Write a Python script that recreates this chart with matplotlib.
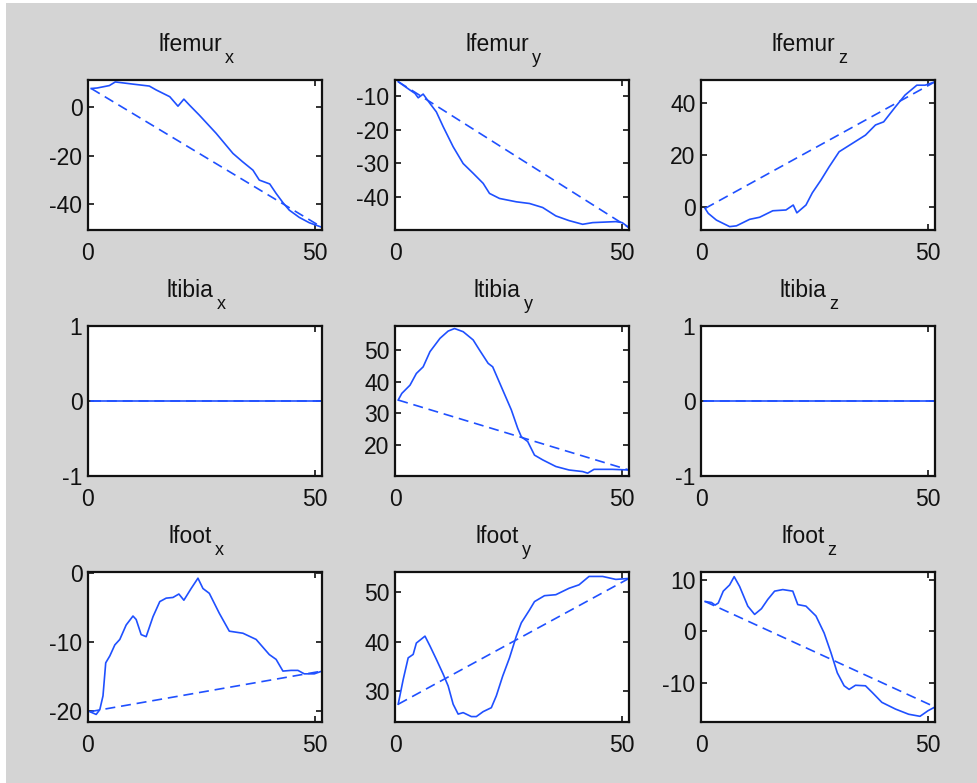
import matplotlib.pyplot as plt
from matplotlib.patches import Rectangle

plt.rcParams['font.family'] = ['Liberation Sans', 'DejaVu Sans']
plt.rcParams['axes.unicode_minus'] = False

# frame numbers and values
lfemur_x_t = [0.7, 2.0, 4.7, 6.0, 9.9, 13.5, 15, 18, 19.8, 21.1, 22.3, 24.5, 28.2, 31.9, 34, 36.3,
              37.7, 40, 41.4, 42.9, 44.3, 46.5, 48.7, 51.5]
lfemur_x = [7.8, 8.0, 9.0, 10.5, 9.6, 8.8, 7.2, 4.4, 0.5, 3.4, 1.0, -3.2, -10.7, -19, -22.4, -25.9,
            -30, -31.6, -35.5, -39.3, -42.4, -45.4, -47.6, -49.5]

lfemur_y_t = [0.7, 3.3, 4.4, 5.1, 6.2, 7.7, 9.1, 10.6, 12.8, 15, 17.2, 19.4, 20.8, 23, 26.7, 29.6,
              32.5, 35.4, 38.3, 41.3, 43.5, 48.6, 50, 51.5]
lfemur_y = [-5.7, -8.2, -9.2, -10.5, -9.4, -12.2, -14.7, -19.1, -25.1, -30.1, -33, -36, -39, -40.5,
            -41.5, -42, -43.2, -45.7, -47.1, -48.2, -47.7, -47.4, -47.7, -49.2]

lfemur_z_t = [0.9, 1.6, 3.4, 6.3, 7.8, 10.7, 12.9, 15.8, 18.7, 20.3, 21.1, 23.1, 24.5, 26.4, 28.2,
              30.4, 33.3, 36.2, 38.4, 40.2, 42.8, 44.9, 47.5, 49.3, 51.5]
lfemur_z = [-0.4, -2.3, -4.9, -7.4, -7.1, -4.6, -3.8, -1.3, -1.0, 0.9, -2.1, 0.9, 5.6, 10.5, 15.6,
            21.4, 24.6, 27.8, 31.7, 32.9, 38.7, 43.2, 47, 47, 48.3]

ltibia_x_t = [0.7, 51.5]
ltibia_x = [0, 0]

ltibia_y_t = [0.7, 1.5, 3.3, 4.7, 6.2, 7.7, 9.9, 11.7, 13.1, 15, 17.2, 18.6, 20.5, 21.5, 23.7, 25.6,
              27, 27.8, 29.2, 30.7, 32.5, 35.4, 38.3, 41.3, 42.4, 43.8, 47.8, 51.5]
ltibia_y = [34.2, 36.3, 38.9, 42.6, 44.7, 49.5, 53.7, 56, 56.8, 55.8, 53.2, 50, 45.8, 44.7, 37.4,
            31.1, 25.3, 22.6, 21.1, 16.8, 15.3, 13.2, 12.1, 11.6, 11.1, 12.3, 12.3, 12.1]

ltibia_z_t = [0.7, 51.5]
ltibia_z = [0, 0]

lfoot_x_t = [0.4, 1.8, 2.6, 3.3, 3.9, 4.8, 5.9, 7, 8.4, 9.9, 10.6, 11.7, 12.8, 14.3, 15.8, 17.2,
             18.7, 20, 21.1, 22.7, 24.2, 25.3, 26.7, 28.9, 31.1, 34.1, 37, 39.9, 41.4, 42.9, 44.7,
             46.2, 47.6, 49.8, 51.5]
lfoot_x = [-20.1, -20.5, -19.8, -17.8, -13, -12, -10.4, -9.6, -7.5, -6.2, -6.7, -8.9, -9.2, -6.3,
           -4.1, -3.6, -3.5, -3.0, -3.9, -2.2, -0.7, -2.2, -2.9, -5.8, -8.4, -8.7, -9.6, -11.8,
           -12.5, -14.2, -14.1, -14.1, -14.6, -14.6, -14.2]

lfoot_y_t = [0.7, 1.8, 2.9, 4, 4.7, 6.6, 7.7, 9.1, 10.6, 11.7, 12.8, 13.9, 15, 16.8, 17.9, 19.4,
             21.2, 22.3, 23.7, 25.2, 26.7, 27.8, 29.6, 30.7, 32.9, 35.4, 38.3, 40.5, 42.7, 45.7,
             48.6, 51.5]
lfoot_y = [27.3, 32.3, 36.7, 37.4, 39.7, 41.1, 39.1, 36.4, 33.4, 31, 27.3, 25.3, 25.6, 24.8, 24.8,
           25.8, 26.6, 29, 33, 36.7, 41.1, 43.8, 46.4, 48.1, 49.3, 49.5, 50.8, 51.5, 53.2, 53.2,
           52.6, 52.8]

lfoot_z_t = [0.9, 2.3, 3.1, 3.8, 4.9, 6.3, 7.3, 8.5, 10.3, 11.8, 13.3, 14.7, 16.2, 18, 20.2, 21.3,
             23.1, 25.3, 27.1, 28.6, 30, 31.5, 32.6, 34, 36.2, 37.7, 39.8, 42.8, 45.7, 48.2, 50,
             51.5]
lfoot_z = [5.8, 5.6, 5.1, 5.5, 7.8, 9, 10.6, 8.7, 4.9, 3.3, 4.4, 6.2, 7.8, 8.1, 7.8, 5.2, 4.9, 3,
           -0.3, -4.1, -8, -10.5, -11.2, -10.4, -10.5, -11.8, -13.7, -15, -16, -16.4, -15.3, -14.6]

title_main = ['lfemur', 'lfemur', 'lfemur', 'ltibia', 'ltibia', 'ltibia', 'lfoot', 'lfoot', 'lfoot']
title_sub = ['x', 'y', 'z'] * 3
series = [(lfemur_x_t, lfemur_x), (lfemur_y_t, lfemur_y), (lfemur_z_t, lfemur_z),
          (ltibia_x_t, ltibia_x), (ltibia_y_t, ltibia_y), (ltibia_z_t, ltibia_z),
          (lfoot_x_t, lfoot_x), (lfoot_y_t, lfoot_y), (lfoot_z_t, lfoot_z)]
ylims = [(-50.6, 11.3), (-49.9, -5.2), (-8.7, 49.0),
         (-1, 1), (10.2, 57.6), (-1, 1),
         (-21.6, 0.2), (23.7, 54.1), (-17.5, 11.5)]
yticks = [[-40, -20, 0], [-40, -30, -20, -10], [0, 20, 40],
          [-1, 0, 1], [20, 30, 40, 50], [-1, 0, 1],
          [-20, -10, 0], [30, 40, 50], [-10, 0, 10]]

blue = '#1f50ff'
ink = '#111111'
W, H = 978, 783
fig = plt.figure(figsize=(W / 100, H / 100), dpi=100, facecolor='white')
fig.patches.append(Rectangle((6 / W, 0), 1, 1 - 3 / H, transform=fig.transFigure,
                             facecolor='#d4d4d4', edgecolor='none', zorder=-10))
renderer = fig.canvas.get_renderer()

lefts = [88, 395, 701]
tops = [80, 326, 572]
aw, ah = 234, 150

for i in range(9):
    r, c = divmod(i, 3)
    ax = fig.add_axes([lefts[c] / W, 1 - (tops[r] + ah) / H, aw / W, ah / H])
    t, v = series[i]
    ax.plot(t, v, color=blue, lw=1.2)
    # dashed chord from first to last sample
    ax.plot([t[0], t[-1]], [v[0], v[-1]], color=blue, lw=1.2, ls=(0, (6, 3.5)))
    ax.set_xlim(0, 51.5)
    ax.set_ylim(*ylims[i])
    ax.set_xticks([0, 50])
    ax.set_yticks(yticks[i])
    ax.tick_params(direction='in', top=True, right=True, length=4, width=1.2,
                   labelsize=16.5, colors=ink)
    ax.tick_params(axis='y', pad=4)
    ax.tick_params(axis='x', pad=9)
    for s in ax.spines.values():
        s.set_linewidth(1.6)
        s.set_color(ink)

    # title with a large, low subscript
    cx = lefts[c] + aw / 2 - 15
    base = tops[r] - 29
    main = fig.text(cx / W, 1 - base / H, title_main[i], ha='center', va='baseline',
                    fontsize=16.5, color=ink)
    x1 = main.get_window_extent(renderer).x1
    fig.text((x1 + 3) / W, 1 - (base + 12) / H, title_sub[i], ha='left', va='baseline',
             fontsize=13, color=ink)

fig.savefig('out.png', dpi=100, facecolor=fig.get_facecolor())
